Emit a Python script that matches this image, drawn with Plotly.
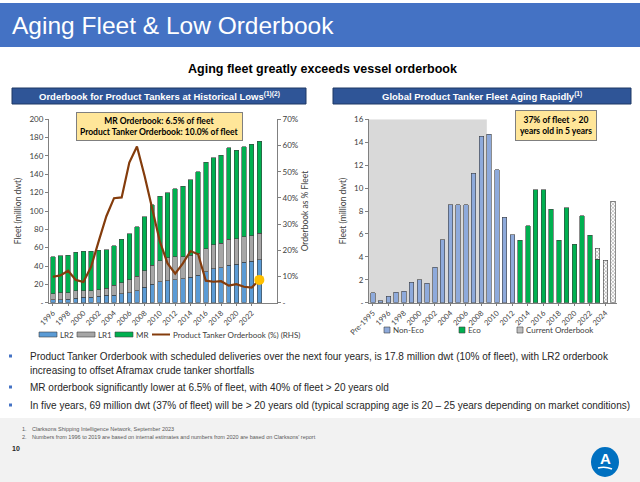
import plotly.graph_objects as go

# ---- left chart data (million dwt, % of fleet) ----
years = [str(y) for y in range(1996, 2024)]
lr2 = [3, 3, 4, 5, 6, 6, 7, 8, 8, 10, 11, 13, 17, 20, 23, 24, 25, 26, 28, 30, 34, 37, 38, 41, 42, 44, 45, 47]
lr1 = [7, 8, 7, 8, 7, 7, 7, 8, 11, 12, 14, 16, 18, 21, 23, 25, 25, 24, 24, 24, 25, 26, 27, 28, 28, 28, 28, 29]
mr = [40, 40, 41, 42, 43, 43, 43, 42, 43, 47, 50, 54, 59, 66, 70, 71, 74, 77, 82, 89, 94, 95, 96, 100, 96, 98, 100, 100]
orderbook_pct = [9.9, 10.4, 12.2, 8.7, 7.9, 13.7, 23.5, 33.0, 39.9, 40.2, 53.5, 59.6, 48.4, 36.0,
                 23.3, 15.0, 11.1, 15.0, 19.7, 18.5, 8.4, 8.0, 8.2, 6.5, 7.1, 6.1, 5.8, 8.7]
left_ticks = years[::2]

# ---- right chart data (million dwt by build year) ----
build_years = ["Pre-1995"] + [str(y) for y in range(1995, 2026)]
non_eco = [0.85, 0.15, 0.55, 0.9, 1.0, 1.8, 2.0, 1.7, 3.1, 5.5, 8.55, 8.55, 8.55, 11.3, 14.5, 14.7,
           11.6, 7.45, 5.95] + [None] * 13
eco = [None] * 19 + [5.45, 6.7, 9.85, 9.85, 8.15, 5.45, 8.3, 5.1, 7.6, 5.9, 3.8, None, None]
current_ob = [None] * 29 + [0.95, 3.7, 8.85]
right_ticks = build_years[0:1] + build_years[2::2]

FONT = "Lato, Liberation Sans, sans-serif"
AX = "#808080"
C_LR2, C_LR1, C_MR, C_LINE = "#5b9bd5", "#a6a6a6", "#00b050", "#843c0c"
C_NONECO, C_ECO = "#8eaadb", "#00b050"
OUTLINE = dict(color="#404040", width=0.6)
HATCH = dict(shape="x", fgcolor="#404040", bgcolor="white", size=2.5, solidity=0.4)

fig = go.Figure()

# left: stacked fleet bars
for name, vals, col in [("LR2", lr2, C_LR2), ("LR1", lr1, C_LR1), ("MR", mr, C_MR)]:
    fig.add_trace(go.Bar(x=years, y=vals, name=name, marker=dict(color=col, line=OUTLINE),
                         xaxis="x", yaxis="y", showlegend=False))

fig.add_trace(go.Scatter(x=years, y=orderbook_pct, name="Product Tanker Orderbook (%) (RHS)", mode="lines",
                         line=dict(color=C_LINE, width=2.2), xaxis="x", yaxis="y2", showlegend=False))
fig.add_trace(go.Scatter(x=years[-1:], y=orderbook_pct[-1:], mode="markers", showlegend=False,
                         marker=dict(color="#ffc000", size=10), xaxis="x", yaxis="y2"))

# right: fleet age profile
fig.add_trace(go.Bar(x=build_years, y=non_eco, name="Non-Eco", xaxis="x2", yaxis="y3", showlegend=False,
                     marker=dict(color=C_NONECO, line=OUTLINE)))
fig.add_trace(go.Bar(x=build_years, y=eco, name="Eco", xaxis="x2", yaxis="y3", showlegend=False,
                     marker=dict(color=C_ECO, line=OUTLINE)))
fig.add_trace(go.Bar(x=build_years, y=current_ob, name="Current Orderbook", xaxis="x2", yaxis="y3",
                     showlegend=False, marker=dict(color="white", line=OUTLINE, pattern=HATCH)))

tickfont = dict(family=FONT, size=8, color="#404040")
axis_common = dict(showline=True, linecolor=AX, linewidth=1, showgrid=False, zeroline=False, automargin=False,
                   ticks="outside", ticklen=3, tickcolor=AX, tickfont=tickfont)
xaxis_common = dict(axis_common, ticklen=2, tickfont=dict(tickfont, size=7.5))


def px(x):
    return x / 640


def py(y):
    return 1 - y / 482


def box(x0, x1, y0, y1, fill, line=None, layer="above"):
    return dict(type="rect", xref="paper", yref="paper", x0=px(x0), x1=px(x1), y0=py(y1), y1=py(y0),
                fillcolor=fill, line=line or dict(width=0), layer=layer)


shapes = [
    box(0, 640, 3, 47, "#4472c4", layer="below"),  # title band
    box(12, 306, 88, 104, "#2f5597", dict(color="#1f3864", width=1)),
    box(333, 631, 88, 104, "#2f5597", dict(color="#1f3864", width=1)),
    box(0, 640, 418, 482, "#f2f2f2", layer="below"),  # footer band
    # shaded ageing block on right chart
    dict(type="rect", xref="x2", yref="y3", x0=-0.5, x1=build_years.index("2009") - 0.3, y0=0, y1=16,
         fillcolor="#d9d9d9", line=dict(width=0), layer="below"),
    # logo
    dict(type="circle", xref="paper", yref="paper", x0=px(591), x1=px(619), y0=py(477), y1=py(447),
         fillcolor="#0070c0", line=dict(width=0)),
    dict(type="path", xref="paper", yref="paper",
         path=f"M {px(598)},{py(468)} Q {px(605)},{py(466)} {px(612)},{py(469)}",
         line=dict(color="white", width=1.5)),
    # legend swatches, left chart
    box(39, 57, 332, 337, C_LR2, OUTLINE),
    box(77, 95, 332, 337, C_LR1, OUTLINE),
    box(115, 133, 332, 337, C_MR, OUTLINE),
    dict(type="line", xref="paper", yref="paper", x0=px(152), x1=px(170), y0=py(334.5), y1=py(334.5),
         line=dict(color=C_LINE, width=2)),
    # legend swatches, right chart
    box(384, 390, 327, 333, C_NONECO, OUTLINE),
    box(459, 465, 327, 333, C_ECO, OUTLINE),
    box(517, 523, 327, 333, "#bfbfbf", OUTLINE),
]
for yb in (356, 387, 405):
    shapes.append(box(9, 12, yb - 1.5, yb + 1.5, "#4472c4"))


def txt(x, y, text, size, color="#000000", bold=False, xanchor="left", family="Liberation Sans, Arial, sans-serif", **kw):
    return dict(xref="paper", yref="paper", x=px(x), y=py(y), text=f"<b>{text}</b>" if bold else text,
                showarrow=False, xanchor=xanchor, yanchor="middle", align=kw.pop("align", "left"),
                font=dict(family=family, size=size, color=color), **kw)


BODY = "#262626"
annotations = [
    txt(10, 25, "Aging Fleet & Low Orderbook", 24.5, color="white"),
    txt(322, 69, "Aging fleet greatly exceeds vessel orderbook", 12.5, bold=True, xanchor="center"),
    txt(159, 96, "Orderbook for Product Tankers at Historical Lows<sup>(1)(2)</sup>", 9.5, color="white", bold=True,
        xanchor="center"),
    txt(482, 96, "Global Product Tanker Fleet Aging Rapidly<sup>(1)</sup>", 9.5, color="white", bold=True,
        xanchor="center"),
    txt(159, 127, "MR Orderbook: 6.5% of fleet<br>Product Tanker Orderbook: 10.0% of fleet", 8.5, bold=True,
        xanchor="center", family=FONT, align="center", bgcolor="#ffe699", bordercolor="#7f7f7f", borderwidth=1,
        borderpad=3),
    txt(556, 126, "37% of fleet &gt; 20<br>years old in 5 years", 8.5, bold=True, xanchor="center", family=FONT,
        align="center", bgcolor="#ffe699", bordercolor="#7f7f7f", borderwidth=1, borderpad=4),
    # legends
    txt(58, 334.5, "LR2", 8, color="#404040", family=FONT),
    txt(96, 334.5, "LR1", 8, color="#404040", family=FONT),
    txt(134, 334.5, "MR", 8, color="#404040", family=FONT),
    txt(171, 334.5, "Product Tanker Orderbook (%) (RHS)", 8, color="#404040", family=FONT),
    txt(391, 330, "Non-Eco", 8, color="#404040", family=FONT),
    txt(466, 330, "Eco", 8, color="#404040", family=FONT),
    txt(524, 330, "Current Orderbook", 8, color="#404040", family=FONT),
    # bullets
    txt(28, 356, "Product Tanker Orderbook with scheduled deliveries over the next four years, is 17.8 million dwt "
                 "(10% of fleet), with LR2 orderbook", 10, color=BODY),
    txt(28, 370, "increasing to offset Aframax crude tanker shortfalls", 10, color=BODY),
    txt(28, 387, "MR orderbook significantly lower at 6.5% of fleet, with 40% of fleet &gt; 20 years old", 10,
        color=BODY),
    txt(28, 405, "In five years, 69 million dwt (37% of fleet) will be &gt; 20 years old (typical scrapping age is "
                 "20 – 25 years depending on market conditions)", 10, color=BODY),
    txt(20, 429, "1.", 5.5, color="#595959"),
    txt(30, 429, "Clarksons Shipping Intelligence Network, September 2023", 5.5, color="#595959"),
    txt(20, 437, "2.", 5.5, color="#595959"),
    txt(30, 437, "Numbers from 1996 to 2019 are based on internal estimates and numbers from 2020 are based on "
                 "Clarksons' report", 5.5, color="#595959"),
    txt(10, 448, "10", 7, bold=True, color=BODY),
    txt(605, 458, "A", 15, bold=True, color="white", xanchor="center"),
]

fig.update_layout(
    width=640, height=482, margin=dict(l=0, r=0, t=0, b=0, autoexpand=False),
    paper_bgcolor="white", plot_bgcolor="rgba(0,0,0,0)",
    barmode="stack", bargap=0.42, showlegend=False,
    font=dict(family=FONT, size=8, color="#404040"),
    xaxis=dict(domain=[px(49), px(277)], anchor="y", type="category", tickvals=left_ticks, tickangle=-45,
               **xaxis_common),
    yaxis=dict(domain=[py(302.7), py(119.3)], anchor="x", range=[0, 200],
               tickvals=list(range(0, 201, 20)), ticktext=["-"] + [str(v) for v in range(20, 201, 20)],
               title=dict(text="Fleet (million dwt)", font=dict(family=FONT, size=8.5, color="#404040"), standoff=6),
               **axis_common),
    yaxis2=dict(overlaying="y", side="right", anchor="x", range=[0, 70],
                tickvals=list(range(0, 71, 10)), ticktext=["-"] + [f"{v}%" for v in range(10, 71, 10)],
                title=dict(text="Orderbook as % Fleet", font=dict(family=FONT, size=8.5, color="#404040"), standoff=4),
                **axis_common),
    xaxis2=dict(domain=[px(369), px(617)], anchor="y3", type="category", tickvals=right_ticks, tickangle=-45,
                **xaxis_common),
    yaxis3=dict(domain=[py(302.7), py(119.3)], anchor="x2", range=[0, 16],
                tickvals=list(range(0, 17, 2)), ticktext=["-"] + [str(v) for v in range(2, 17, 2)],
                title=dict(text="Fleet (million dwt)", font=dict(family=FONT, size=8.5, color="#404040"), standoff=6),
                **axis_common),
    shapes=shapes,
    annotations=annotations,
)

# drop the browser's default page margin so the slide sits at the window origin
fig.write_html("out.html", config={"displayModeBar": False},
               post_script="document.body.style.margin='0';")
